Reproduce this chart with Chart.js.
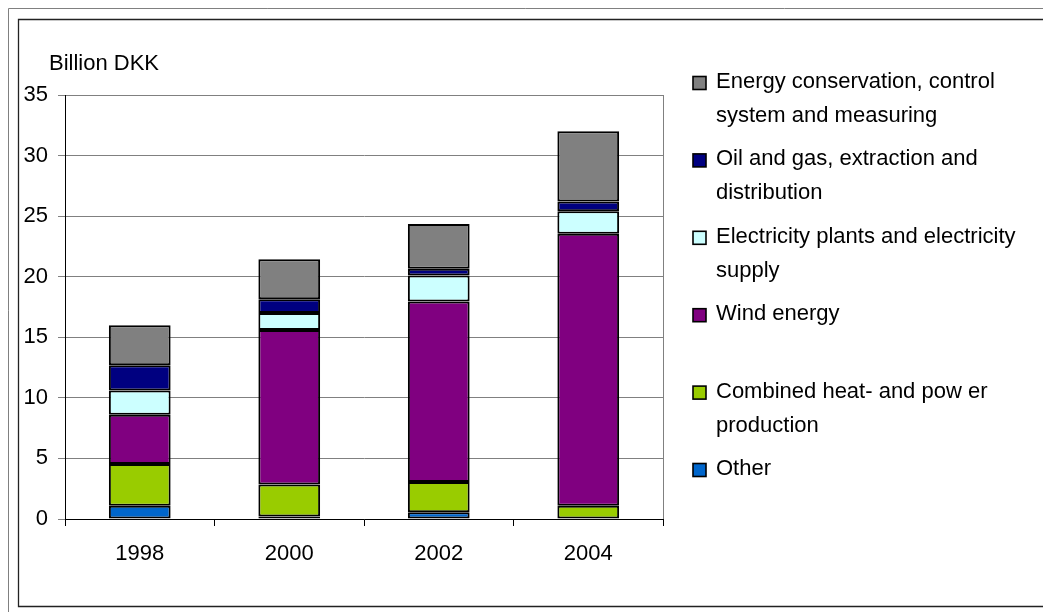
<!DOCTYPE html>
<html>
<head>
<meta charset="utf-8">
<script src="https://cdn.jsdelivr.net/npm/chart.js@4.4.1/dist/chart.umd.min.js"></script>
<style>
  html, body { margin: 0; padding: 0; background: #fff; }
  #wrap { width: 1043px; height: 612px; position: relative; }
</style>
</head>
<body>
<div id="wrap"><canvas id="chart" width="1043" height="612"></canvas></div>
<script>
// data (Billion DKK), stacked bottom to top
const years = ['1998', '2000', '2002', '2004'];
const other = [1.1, 0.2, 0.55, 0];
const chp = [3.45, 2.65, 2.5, 1.1];
const wind = [4.05, 12.75, 14.9, 22.45];
const electricity = [2.0, 1.4, 2.15, 1.85];
const oilGas = [2.1, 1.15, 0.55, 0.8];
const conservation = [3.3, 3.3, 3.7, 5.8];

const yTicks = [0, 5, 10, 15, 20, 25, 30, 35];

// legend lines, top entry first
const legendItems = [
    { lines: ['Energy conservation, control', 'system and measuring'], color: '#808080' },
    { lines: ['Oil and gas, extraction and', 'distribution'], color: '#000080' },
    { lines: ['Electricity plants and electricity', 'supply'], color: '#CCFFFF' },
    { lines: ['Wind energy'], color: '#800080' },
    { lines: ['Combined heat- and pow er', 'production'], color: '#99CC00' },
    { lines: ['Other'], color: '#0066CC' },
];

const FONT = '"Liberation Sans", Arial, sans-serif';
Chart.defaults.font.family = FONT;
Chart.defaults.font.size = 22;
Chart.defaults.color = '#000';

function makeSet(label, data, color) {
    return {
        label: label,
        data: data,
        backgroundColor: color,
        borderColor: '#000',
        borderWidth: 2,
        borderSkipped: false,
        barPercentage: 0.413,
        categoryPercentage: 1.0,
    };
}

// frame, plot border, axis title and legend
const decoPlugin = {
    id: 'deco',
    beforeDraw(chart) {
        const ctx = chart.ctx;
        const a = chart.chartArea;
        ctx.save();
        ctx.fillStyle = '#fff';
        ctx.fillRect(0, 0, chart.width, chart.height);
        // outer frame
        ctx.strokeStyle = '#808080';
        ctx.lineWidth = 1;
        ctx.beginPath();
        ctx.moveTo(8.5, 612); ctx.lineTo(8.5, 8.5); ctx.lineTo(1043, 8.5);
        ctx.stroke();
        // inner frame
        ctx.strokeStyle = '#222';
        ctx.lineWidth = 1.3;
        ctx.beginPath();
        ctx.moveTo(1043, 19.5); ctx.lineTo(18.5, 19.5); ctx.lineTo(18.5, 606.5); ctx.lineTo(1043, 606.5);
        ctx.stroke();
        // plot area border
        ctx.strokeStyle = '#808080';
        ctx.lineWidth = 1;
        ctx.strokeRect(a.left + 0.5, a.top + 0.5, a.right - a.left, a.bottom - a.top);
        ctx.restore();
    },
    afterDraw(chart) {
        const ctx = chart.ctx;
        ctx.save();
        ctx.font = '22px ' + FONT;
        ctx.fillStyle = '#000';
        ctx.textBaseline = 'alphabetic';
        ctx.textAlign = 'left';
        ctx.fillText('Billion DKK', 49, 70);

        const mx = 693, tx = 716, top = 83, step = 77.4, lh = 34, sz = 13;
        legendItems.forEach((item, i) => {
            const cy = top + i * step;
            ctx.fillStyle = item.color;
            ctx.fillRect(mx, cy - sz / 2, sz, sz);
            ctx.strokeStyle = '#000';
            ctx.lineWidth = 1.6;
            ctx.strokeRect(mx, cy - sz / 2, sz, sz);
            ctx.fillStyle = '#000';
            ctx.textBaseline = 'middle';
            item.lines.forEach((ln, j) => {
                ctx.fillText(ln, tx, cy - 1 + j * lh);
            });
        });
        ctx.restore();
    },
};

new Chart(document.getElementById('chart').getContext('2d'), {
    type: 'bar',
    data: {
        labels: years,
        datasets: [
            makeSet('Other', other, '#0066CC'),
            makeSet('Combined heat- and power production', chp, '#99CC00'),
            makeSet('Wind energy', wind, '#800080'),
            makeSet('Electricity plants and electricity supply', electricity, '#CCFFFF'),
            makeSet('Oil and gas, extraction and distribution', oilGas, '#000080'),
            makeSet('Energy conservation, control system and measuring', conservation, '#808080'),
        ],
    },
    options: {
        responsive: false,
        animation: false,
        layout: { padding: { left: 0, right: 380, top: 95, bottom: 0 } },
        plugins: {
            legend: { display: false },
            title: { display: false },
            tooltip: { enabled: false },
        },
        scales: {
            x: {
                stacked: true,
                grid: { offset: true, drawOnChartArea: false, drawTicks: true, tickLength: 7, color: '#000' },
                border: { color: '#000', width: 1 },
                ticks: { padding: 15, font: { size: 22 } },
                afterFit(scale) { scale.height = 93; },
            },
            y: {
                stacked: true,
                min: 0,
                max: 35,
                afterBuildTicks(scale) { scale.ticks = yTicks.map(v => ({ value: v })); },
                grid: { color: '#808080', lineWidth: 1, tickLength: 7 },
                border: { color: '#000', width: 1 },
                ticks: { padding: 10, font: { size: 22 } },
                afterFit(scale) { scale.width = 65; },
            },
        },
    },
    plugins: [decoPlugin],
});
</script>
</body>
</html>
